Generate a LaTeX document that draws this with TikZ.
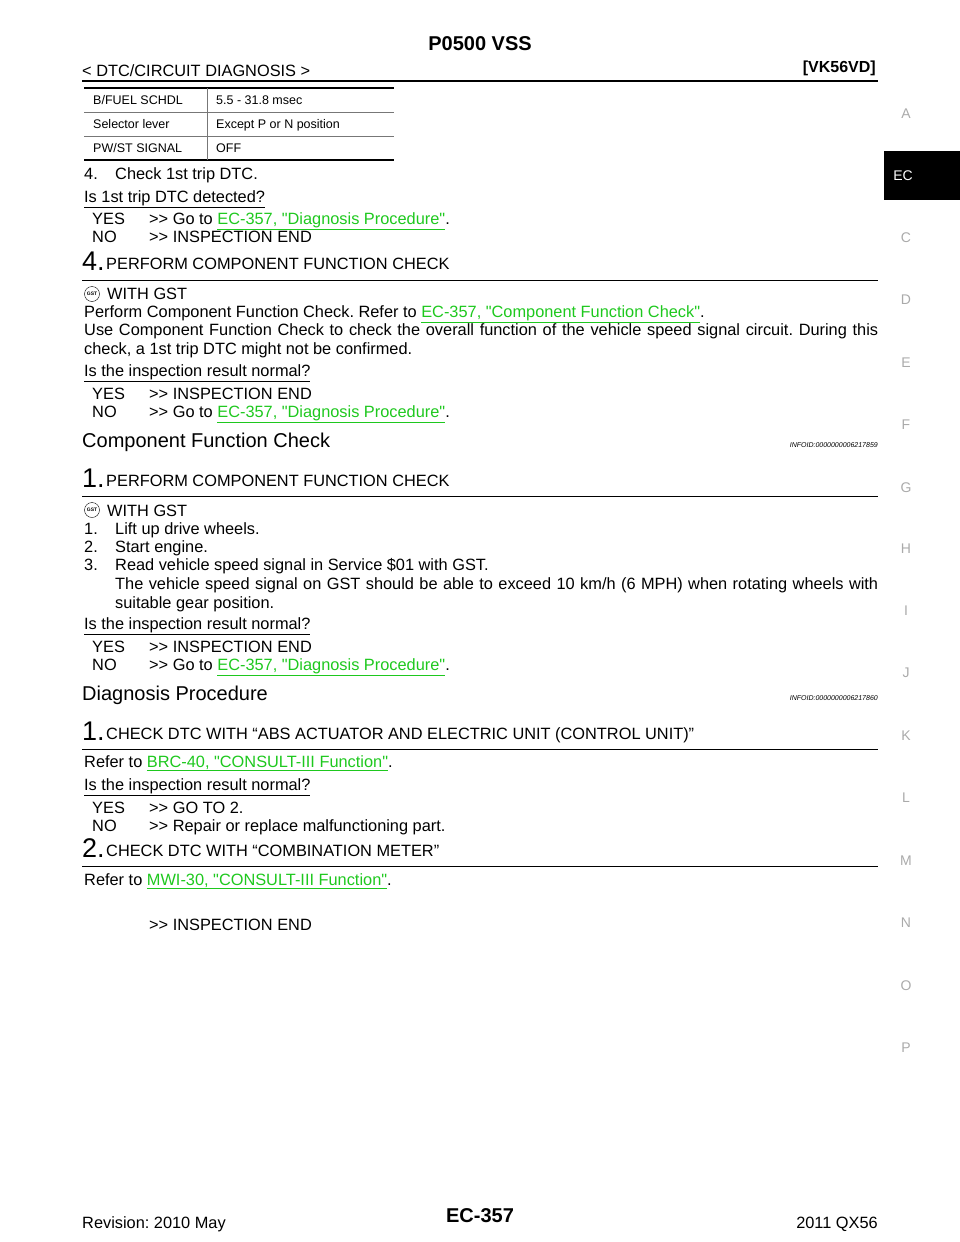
\documentclass[tikz,border=0pt]{standalone}
\usepackage{fontspec}
\setmainfont{Liberation Sans}[Ligatures=TeXOff]
\frenchspacing
\definecolor{linkgreen}{RGB}{30,200,30}
\definecolor{sidegray}{RGB}{170,170,170}
\newcommand{\lk}[1]{\textcolor{linkgreen}{\underline{#1}}}
\newcommand{\numitem}[1]{\makebox[31pt][l]{#1}}
\tikzset{
  body/.style={anchor=base west, inner sep=0pt, font=\fontsize{16.35}{19}\selectfont},
  cell/.style={anchor=base west, inner sep=0pt, font=\fontsize{12.5}{15}\selectfont},
  side/.style={inner sep=0pt, text=sidegray, font=\fontsize{14}{16}\selectfont},
  big/.style={anchor=base west, inner sep=0pt, font=\fontsize{27}{30}\selectfont},
  sect/.style={anchor=base west, inner sep=0pt, font=\fontsize{20}{24}\selectfont},
  info/.style={anchor=base east, inner sep=0pt, font=\fontsize{7}{8}\selectfont\itshape},
  gst/.style={circle, draw, inner sep=0.5pt, minimum size=15pt, font=\fontsize{5}{6}\selectfont\bfseries}
}
\begin{document}
\begin{tikzpicture}[x=1pt,y=-1pt]
    \useasboundingbox (0,0) rectangle (960,1242);

    % Header
    \node[inner sep=0pt, font=\fontsize{20}{24}\selectfont\bfseries] (title) at (480,44) {P0500 VSS};
    \node[body] (chap) at (82,76) {< DTC/CIRCUIT DIAGNOSIS >};
    \node[body, anchor=base east, font=\fontsize{16}{19}\selectfont\bfseries] (eng) at (876,72) {[VK56VD]};
    \draw[line width=1.8pt] (82,81) -- (878,81);

    % Side tabs
    \fill (884,151) rectangle (960,200);
    \node[inner sep=0pt, text=white, font=\fontsize{14}{16}\selectfont] (tabEC) at (903,176) {EC};
    \node[side] (tabA) at (906,114) {A};
    \node[side] (tabC) at (906,238) {C};
    \node[side] (tabD) at (906,300) {D};
    \node[side] (tabE) at (906,363) {E};
    \node[side] (tabF) at (906,425) {F};
    \node[side] (tabG) at (906,488) {G};
    \node[side] (tabH) at (906,549) {H};
    \node[side] (tabI) at (906,611) {I};
    \node[side] (tabJ) at (906,673) {J};
    \node[side] (tabK) at (906,736) {K};
    \node[side] (tabL) at (906,798) {L};
    \node[side] (tabM) at (906,861) {M};
    \node[side] (tabN) at (906,923) {N};
    \node[side] (tabO) at (906,986) {O};
    \node[side] (tabP) at (906,1048) {P};

    % Table
    \draw[line width=1.4pt] (84,88) -- (394,88);
    \draw[sidegray!70!black, line width=0.5pt] (84,112) -- (394,112);
    \draw[sidegray!70!black, line width=0.5pt] (84,136) -- (394,136);
    \draw[line width=1.4pt] (84,160) -- (394,160);
    \draw[sidegray!70!black, line width=0.5pt] (207,88) -- (207,160);
    \node[cell] (r1a) at (93,104) {B/FUEL SCHDL};   \node[cell] (r1b) at (216,104) {5.5 - 31.8 msec};
    \node[cell] (r2a) at (93,128) {Selector lever}; \node[cell] (r2b) at (216,128) {Except P or N position};
    \node[cell] (r3a) at (93,152) {PW/ST SIGNAL};   \node[cell] (r3b) at (216,152) {OFF};

    \node[body] (s4) at (84,179) {\numitem{4.}Check 1st trip DTC.};
    \node[body] (q1) at (84,202) {\underline{Is 1st trip DTC detected?}};
    \node[body] (y1) at (92,224) {YES};
    \node[body] (y1t) at (149,224) {>> Go to \lk{EC-357, "Diagnosis Procedure"}.};
    \node[body] (n1) at (92,242) {NO};
    \node[body] (n1t) at (149,242) {>> INSPECTION END};

    % Step 4
    \node[big] (num4) at (82,270) {4.};
    \node[body, anchor=base west] (h4) at (106,269) {PERFORM COMPONENT FUNCTION CHECK};
    \draw[line width=0.8pt] (82,280) -- (878,280);
    \node[gst] (gst1) at (92,294) {GST};
    \node[body] (w1) at (107,299) {WITH GST};
    \node[body] (p1) at (84,317) {Perform Component Function Check. Refer to \lk{EC-357, "Component Function Check"}.};
    \node[body, text width=794pt, align=justify] (p2) at (84,335) {Use Component Function Check to check the overall function of the vehicle speed signal circuit. During this\linebreak check, a 1st trip DTC might not be confirmed.};
    \node[body] (q2) at (84,376) {\underline{Is the inspection result normal?}};
    \node[body] (y2) at (92,399) {YES};
    \node[body] (y2t) at (149,399) {>> INSPECTION END};
    \node[body] (n2) at (92,417) {NO};
    \node[body] (n2t) at (149,417) {>> Go to \lk{EC-357, "Diagnosis Procedure"}.};

    % Component Function Check
    \node[sect] (cfc) at (82,447) {Component Function Check};
    \node[info] (id1) at (878,447) {INFOID:0000000006217859};
    \node[big] (num1a) at (82,487) {1.};
    \node[body] (h1a) at (106,486) {PERFORM COMPONENT FUNCTION CHECK};
    \draw[line width=0.8pt] (82,496) -- (878,496);
    \node[gst] (gst2) at (92,510) {GST};
    \node[body] (w2) at (107,516) {WITH GST};
    \node[body] (c1) at (84,534) {\numitem{1.}Lift up drive wheels.};
    \node[body] (c2) at (84,552) {\numitem{2.}Start engine.};
    \node[body] (c3) at (84,570) {\numitem{3.}Read vehicle speed signal in Service \$01 with GST.};
    \node[body, text width=763pt, align=justify] (c3b) at (115,589) {The vehicle speed signal on GST should be able to exceed 10 km/h (6 MPH) when rotating wheels with suitable gear position.};
    \node[body] (q3) at (84,629) {\underline{Is the inspection result normal?}};
    \node[body] (y3) at (92,652) {YES};
    \node[body] (y3t) at (149,652) {>> INSPECTION END};
    \node[body] (n3) at (92,670) {NO};
    \node[body] (n3t) at (149,670) {>> Go to \lk{EC-357, "Diagnosis Procedure"}.};

    % Diagnosis Procedure
    \node[sect] (dp) at (82,700) {Diagnosis Procedure};
    \node[info] (id2) at (878,700) {INFOID:0000000006217860};
    \node[big] (num1b) at (82,740) {1.};
    \node[body] (h1b) at (106,739) {CHECK DTC WITH “ABS ACTUATOR AND ELECTRIC UNIT (CONTROL UNIT)”};
    \draw[line width=0.8pt] (82,749) -- (878,749);
    \node[body] (r1) at (84,767) {Refer to \lk{BRC-40, "CONSULT-III Function"}.};
    \node[body] (q4) at (84,790) {\underline{Is the inspection result normal?}};
    \node[body] (y4) at (92,813) {YES};
    \node[body] (y4t) at (149,813) {>> GO TO 2.};
    \node[body] (n4) at (92,831) {NO};
    \node[body] (n4t) at (149,831) {>> Repair or replace malfunctioning part.};
    \node[big] (num2) at (82,857) {2.};
    \node[body] (h2) at (106,856) {CHECK DTC WITH “COMBINATION METER”};
    \draw[line width=0.8pt] (82,866) -- (878,866);
    \node[body] (r2) at (84,885) {Refer to \lk{MWI-30, "CONSULT-III Function"}.};
    \node[body] (end) at (149,930) {>> INSPECTION END};

    % Footer
    \node[body] (rev) at (82,1228) {Revision: 2010 May};
    \node[inner sep=0pt, font=\fontsize{20}{24}\selectfont\bfseries] (page) at (480,1216) {EC-357};
    \node[body, anchor=base east] (model) at (878,1228) {2011 QX56};

\end{tikzpicture}
\end{document}
